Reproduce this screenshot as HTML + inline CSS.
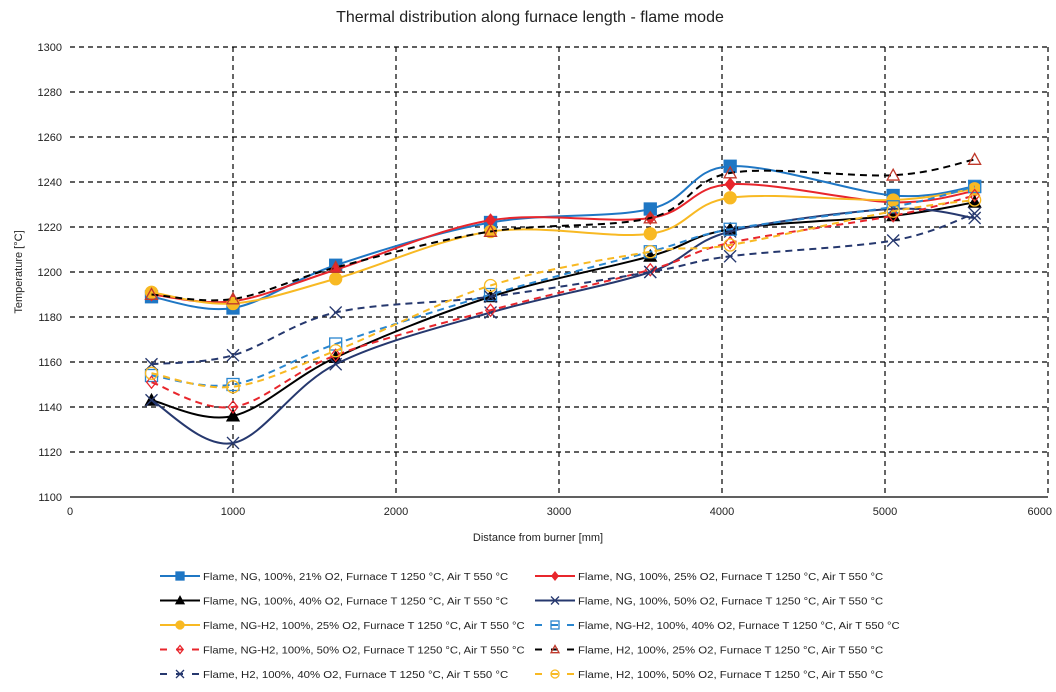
<!DOCTYPE html>
<html><head><meta charset="utf-8"><style>
body{margin:0;background:#fff;font-family:"Liberation Sans",sans-serif;}
svg text{font-family:"Liberation Sans",sans-serif;fill:#222;}
</style></head><body>
<svg id="c" width="1056" height="687" xmlns="http://www.w3.org/2000/svg">
<text x="530" y="22" font-size="16" text-anchor="middle">Thermal distribution along furnace length - flame mode</text>
<text x="538" y="541" font-size="11" text-anchor="middle">Distance from burner [mm]</text>
<text transform="translate(22,272) rotate(-90)" font-size="11" text-anchor="middle">Temperature [°C]</text>
<g id="grid"></g><g id="series"></g><g id="legend"></g>
</svg>
<script>
const xTicks=[0,1000,2000,3000,4000,5000,6000];
const yTicks=[1100,1120,1140,1160,1180,1200,1220,1240,1260,1280,1300];
const positions=[500,1000,1630,2580,3560,4050,5050,5550];
const ng21=[1189,1184,1203,1222,1228,1247,1234,1238];
const ng25=[1190,1187,1201,1223,1224,1239,1231,1236];
const ng40=[1143,1136,1162,1189,1207,1219,1225,1231];
const ng50=[1143,1124,1159,1182,1200,1218,1228,1224];
const ngh25=[1191,1186,1197,1218,1217,1233,1232,1237];
const ngh40=[1154,1150,1168,1190,1209,1219,1229,1238];
const ngh50=[1151,1140,1163,1183,1201,1213,1225,1234];
const h25=[1190,1188,1202,1218,1224,1244,1243,1250];
const h40=[1159,1163,1182,1189,1200,1207,1214,1226];
const h50=[1155,1149,1165,1194,1209,1212,1227,1232];
const labels=["Flame, NG, 100%, 21% O2, Furnace T 1250 °C, Air T 550 °C","Flame, NG, 100%, 25% O2, Furnace T 1250 °C, Air T 550 °C","Flame, NG, 100%, 40% O2, Furnace T 1250 °C, Air T 550 °C","Flame, NG, 100%, 50% O2, Furnace T 1250 °C, Air T 550 °C","Flame, NG-H2, 100%, 25% O2, Furnace T 1250 °C, Air T 550 °C","Flame, NG-H2, 100%, 40% O2, Furnace T 1250 °C, Air T 550 °C","Flame, NG-H2, 100%, 50% O2, Furnace T 1250 °C, Air T 550 °C","Flame, H2, 100%, 25% O2, Furnace T 1250 °C, Air T 550 °C","Flame, H2, 100%, 40% O2, Furnace T 1250 °C, Air T 550 °C","Flame, H2, 100%, 50% O2, Furnace T 1250 °C, Air T 550 °C"];
const NS="http://www.w3.org/2000/svg";
const X0=70,X1=1048,Y0=497,Y1=47;
const xs=v=>X0+(v-0)/6000*(X1-X0);
const ys=v=>Y0-(v-1100)/200*(Y0-Y1);
function mk(t,a,p){const e=document.createElementNS(NS,t);for(const k in a)e.setAttribute(k,a[k]);p.appendChild(e);return e;}
const grid=document.getElementById('grid');
yTicks.forEach(t=>{
  const l=mk('line',{x1:X0,x2:X1,y1:ys(t),y2:ys(t),stroke:'#000','stroke-width':1.2,'stroke-dasharray':t===1100?'none':'5,4'},grid);
  
  
  const tx=mk('text',{x:X0-8,y:ys(t)+4,'font-size':11,'text-anchor':'end'},grid);tx.textContent=t;
  
  
});
xTicks.forEach(t=>{
  if(t>0){const l=mk('line',{x1:xs(t),x2:xs(t),y1:Y1,y2:Y0,stroke:'#000','stroke-width':1.2,'stroke-dasharray':'5,4'},grid);
  
  }
  const last=t===6000;
  const tx=mk('text',{x:last?1052:xs(t),y:Y0+18,'font-size':11,'text-anchor':last?'end':'middle'},grid);tx.textContent=t;
  
  
});
const series=[
 {d:ng21,c:'#1f77c4',dash:false,m:'sq',f:true},
 {d:ng25,c:'#e8262c',dash:false,m:'dia',f:true},
 {d:ng40,c:'#000',dash:false,m:'tri',f:true},
 {d:ng50,c:'#26386e',dash:false,m:'x',f:true},
 {d:ngh25,c:'#f8b923',dash:false,m:'circ',f:true},
 {d:ngh40,c:'#2a86cf',dash:true,m:'sq',f:false},
 {d:ngh50,c:'#e8262c',dash:true,m:'dia',f:false},
 {d:h25,c:'#000',dash:true,m:'tri',f:false,mc:'#c0392b'},
 {d:h40,c:'#26386e',dash:true,m:'x',f:false},
 {d:h50,c:'#f8b923',dash:true,m:'circ',f:false}];
function smooth(pts){let s=`M${pts[0][0]},${pts[0][1]}`;for(let i=0;i<pts.length-1;i++){const p0=pts[Math.max(0,i-1)],p1=pts[i],p2=pts[i+1],p3=pts[Math.min(pts.length-1,i+2)];
 s+=` C${p1[0]+(p2[0]-p0[0])/6},${p1[1]+(p2[1]-p0[1])/6} ${p2[0]-(p3[0]-p1[0])/6},${p2[1]-(p3[1]-p1[1])/6} ${p2[0]},${p2[1]}`;}return s;}
function marker(g,type,x,y,c,fill,sz){
  let e;
  if(type==='sq')e=mk('rect',{x:x-sz,y:y-sz,width:2*sz,height:2*sz,fill:fill?c:'none',stroke:c,'stroke-width':1.3},g);
  else if(type==='dia')e=mk('polygon',{points:`${x},${y-sz} ${x+sz*0.8},${y} ${x},${y+sz} ${x-sz*0.8},${y}`,fill:fill?c:'none',stroke:c,'stroke-width':1.3},g);
  else if(type==='tri')e=mk('polygon',{points:`${x},${y-sz} ${x+sz},${y+sz*0.8} ${x-sz},${y+sz*0.8}`,fill:fill?c:'none',stroke:c,'stroke-width':1.3},g);
  else if(type==='circ')e=mk('circle',{cx:x,cy:y,r:sz,fill:fill?c:'none',stroke:c,'stroke-width':1.3},g);
  else e=mk('path',{d:`M${x-sz},${y-sz}L${x+sz},${y+sz}M${x-sz},${y+sz}L${x+sz},${y-sz}`,stroke:c,'stroke-width':1.3,fill:'none'},g);
  
  
}
const sg=document.getElementById('series');
series.forEach((s,i)=>{
  const g=mk('g',{},sg);
  
  
  const pts=positions.map((p,j)=>[xs(p),ys(s.d[j])]);
  const path=mk('path',{d:smooth(pts),fill:'none',stroke:s.c,'stroke-width':2,'stroke-dasharray':s.dash?'7,5':'none'},g);
  
  
  pts.forEach(p=>marker(g,s.m,p[0],p[1],s.mc||s.c,s.f,6));
});
const lg=document.getElementById('legend');
series.forEach((s,i)=>{
  const col=i%2,row=Math.floor(i/2);
  const lx=col?535:160,ly=576+row*24.5;
  const g=mk('g',{},lg);
  
  
  mk('line',{x1:lx,x2:lx+40,y1:ly,y2:ly,stroke:s.c,'stroke-width':2,'stroke-dasharray':s.dash?'7,9':'none'},g);
  marker(g,s.m,lx+20,ly,s.mc||s.c,s.f,4);
  const t=mk('text',{x:lx+43,y:ly+4,'font-size':10.5,textLength:labels[i].length*5.45,lengthAdjust:'spacingAndGlyphs'},g);t.textContent=labels[i];
});
</script>
</body></html>
